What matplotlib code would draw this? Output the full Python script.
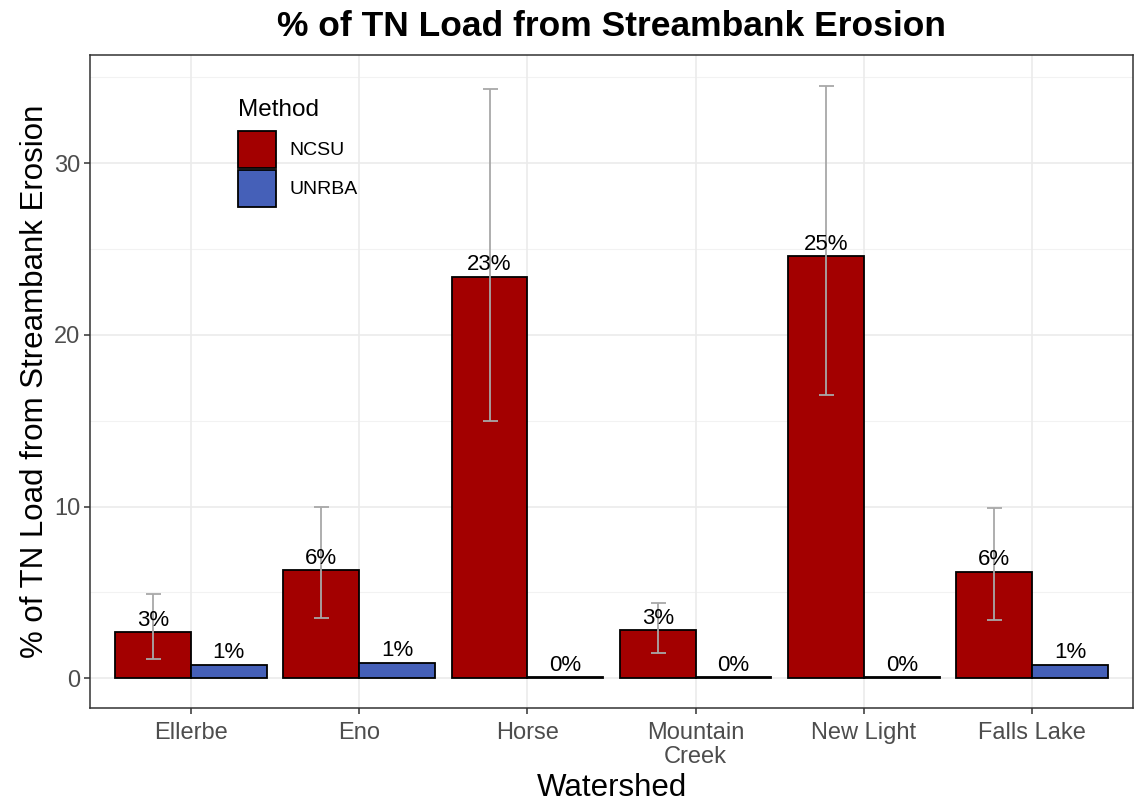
import numpy as np
import matplotlib
matplotlib.use('Agg')
import matplotlib.pyplot as plt
from matplotlib.patches import Patch

# TN load share from streambank erosion, by watershed and method
watersheds = ['Ellerbe', 'Eno', 'Horse', 'Mountain\nCreek', 'New Light', 'Falls Lake']
ncsu = [2.7, 6.3, 23.4, 2.8, 24.6, 6.2]
unrba = [0.8, 0.9, 0.05, 0.05, 0.05, 0.8]
ncsu_low = [1.1, 3.5, 15.0, 1.5, 16.5, 3.4]
ncsu_high = [4.9, 10.0, 34.3, 4.4, 34.5, 9.9]
methods = ['NCSU', 'UNRBA']

red = '#a30000'
blue = '#4560b8'

plt.rcParams['font.family'] = ['Liberation Sans', 'DejaVu Sans']

fig = plt.figure(figsize=(11.35, 8.07), dpi=100)
ax = fig.add_axes([90/1135, 99/807, 1043/1135, 653/807])

x = np.arange(len(watersheds))
w = 0.45

# grid like theme_bw
ax.set_axisbelow(True)
for v in [5, 15, 25, 35]:
    ax.axhline(v, color='#f2f2f2', lw=0.8, zorder=0)
ax.grid(True, color='#ebebeb', lw=1.2)

ax.bar(x - w/2, ncsu, width=w, color=red, edgecolor='black', lw=1.3, zorder=2)
ax.bar(x + w/2, unrba, width=w, color=blue, edgecolor='black', lw=1.3, zorder=2)

mid = np.array(ncsu)
err = [mid - np.array(ncsu_low), np.array(ncsu_high) - mid]
ax.errorbar(x - w/2, mid, yerr=err, fmt='none', ecolor='#a8a8a8', elinewidth=1.3,
            capsize=5.4, capthick=1.3, zorder=3)

for xi, v in zip(x - w/2, ncsu):
    ax.annotate(f'{v:.0f}%', (xi, v), xytext=(0, 1), textcoords='offset points',
                ha='center', va='bottom', fontsize=16, color='black', zorder=4)
for xi, v in zip(x + w/2, unrba):
    ax.annotate(f'{v:.0f}%', (xi, v), xytext=(0, 1), textcoords='offset points',
                ha='center', va='bottom', fontsize=16, color='black', zorder=4)

ax.set_xlim(-0.6, 5.6)
ax.set_ylim(-1.73, 36.3)
ax.set_xticks(x)
ax.set_xticklabels(watersheds, linespacing=1.1)
ax.set_yticks([0, 10, 20, 30])
ax.tick_params(axis='both', colors='#333333', length=4, width=1.1,
               labelsize=17, labelcolor='#4d4d4d', pad=3)
ax.tick_params(axis='x', pad=6)
for s in ax.spines.values():
    s.set_color('#333333')
    s.set_linewidth(1.1)

ax.set_xlabel('Watershed', fontsize=22.5, labelpad=4)
ax.set_ylabel('% of TN Load from Streambank Erosion', fontsize=22.5, labelpad=3)
ax.set_title('% of TN Load from Streambank Erosion', fontsize=25.5,
             fontweight='bold', pad=14)

# legend: title as its own text, keys below it
fig.text(238/1135, 1 - 116/807, 'Method', fontsize=17.5, ha='left', va='baseline')
handles = [Patch(facecolor=red, edgecolor='black', lw=1.3),
           Patch(facecolor=blue, edgecolor='black', lw=1.3)]
leg = ax.legend(handles, methods, loc='upper left',
                bbox_to_anchor=(238/1135, 1 - 131/807), bbox_transform=fig.transFigure,
                frameon=False, fontsize=14,
                handlelength=1.95, handleheight=2.55, labelspacing=0.1,
                handletextpad=0.7, borderpad=0, borderaxespad=0)

fig.savefig('out.png', dpi=100)
